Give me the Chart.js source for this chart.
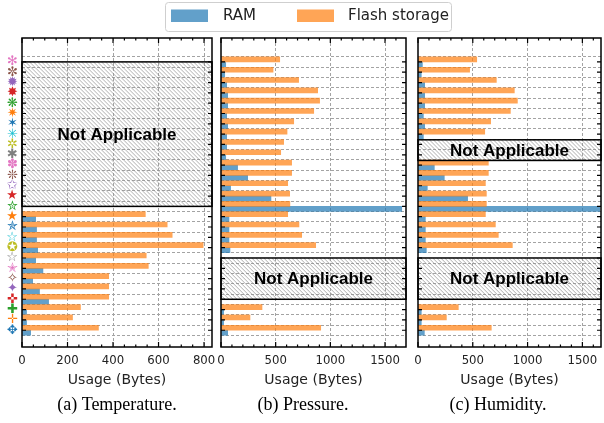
<!DOCTYPE html>
<html>
<head>
<meta charset="utf-8">
<script src="https://cdn.jsdelivr.net/npm/chart.js@4.4.1/dist/chart.umd.min.js"></script>
<style>
  body { margin: 0; background: #fff; }
  #wrap { position: relative; width: 604px; height: 423px; overflow: hidden; }
  canvas { position: absolute; }
</style>
</head>
<body>
<div id="wrap">
  <canvas id="legend" width="604" height="36" style="left:0;top:0"></canvas>
  <canvas id="temp" width="216" height="390" style="left:0;top:33px"></canvas>
  <canvas id="press" width="212" height="390" style="left:200px;top:33px"></canvas>
  <canvas id="humid" width="209" height="390" style="left:395px;top:33px"></canvas>
</div>
<script>
// y tick labels of the first panel (one marker per board, top to bottom)
const rowMarkers = ['✻', '✼', '✹', '✸', '❋', '✷', '✶', '✳', '✲', '✱', '✽', '❊', '✩', '★', '✮', '★',
                    '✯', '☆', '✪', '☆', '✭', '✧', '✦', '✜', '✚', '✛', '✥'];
const markerColors = ['#e377c2', '#8c564b', '#9467bd', '#d62728', '#2ca02c', '#ff7f0e', '#1f77b4', '#17becf', '#bcbd22',
                      '#7f7f7f', '#e377c2', '#8c564b', '#9467bd', '#d62728', '#2ca02c', '#ff7f0e', '#1f77b4', '#17becf',
                      '#bcbd22', '#7f7f7f', '#e377c2', '#8c564b', '#9467bd', '#d62728', '#2ca02c', '#ff7f0e', '#1f77b4'];
const rowIndex = rowMarkers.map((m, i) => i);

const seriesNames = ['RAM', 'Flash storage'];
const captions = ['(a) Temperature.', '(b) Pressure.', '(c) Humidity.'];
const axisTitle = 'Usage (Bytes)';
const naLabel = 'Not Applicable';

// bytes, null = not applicable
const tempRam = [null, null, null, null, null, null, null, null, null, null, null, null, null, null, null,
                 60, 64, 64, 69, 60, 92, 47, 77, 117, 20, 20, 38];
const tempFlash = [null, null, null, null, null, null, null, null, null, null, null, null, null, null, null,
                   542, 638, 660, 796, 546, 555, 381, 381, 381, 257, 222, 336];
const pressRam = [43, 34, 52, 61, 61, 52, 61, 52, 52, 43, 152, 244, 88, 457, 1653, 73, 73, 73, 82,
                  null, null, null, null, null, 24, 24, 61];
const pressFlash = [537, 476, 710, 884, 902, 848, 665, 604, 573, 546, 646, 646, 610, 628, 630, 610, 713, 738, 866,
                    null, null, null, null, null, 375, 265, 912];
const humidRam = [40, 30, 61, 61, 61, 49, 61, 49, null, null, 149, 240, 85, 453, 1658, 67, 67, 67, 76,
                  null, null, null, null, null, 30, 30, 58];
const humidFlash = [536, 471, 715, 879, 907, 843, 663, 609, null, null, 642, 642, 615, 624, 624, 615, 706, 733, 861,
                    null, null, null, null, null, 368, 259, 669];

// row spans covered by the "Not Applicable" boxes
const tempNA = [[0, 14]];
const pressNA = [[19, 23]];
const humidNA = [[7.55, 9.55], [19, 23]];

const ramColor = 'rgba(31,119,180,0.7)';
const flashColor = 'rgba(255,127,14,0.7)';
const gridColor = '#a3a3a3';
const textColor = '#222';

Chart.defaults.font.family = '"DejaVu Sans", sans-serif';
Chart.defaults.color = textColor;

const tickFont = { family: '"Liberation Sans Narrow", "DejaVu Sans Condensed", Roboto, sans-serif', size: 13 };

// frame, inward ticks and hatched boxes
const panelDeco = {
  id: 'panelDeco',
  afterDatasetsDraw(chart, args, opts) {
    const { ctx, chartArea: a, scales: { x, y } } = chart;
    ctx.save();
    (opts.na || []).forEach(([r0, r1]) => {
      const top = y.getPixelForValue(r0), bot = y.getPixelForValue(r1);
      const h = bot - top;
      ctx.save();
      ctx.beginPath();
      ctx.rect(a.left, top, a.right - a.left, h);
      ctx.clip();
      ctx.strokeStyle = '#8c8c8c';
      ctx.lineWidth = 0.7;
      for (let xx = a.left - h; xx < a.right; xx += 4) {
        ctx.beginPath();
        ctx.moveTo(xx, top);
        ctx.lineTo(xx + h, bot);
        ctx.stroke();
      }
      ctx.restore();
      ctx.strokeStyle = '#000';
      ctx.lineWidth = 1.5;
      ctx.strokeRect(a.left, top, a.right - a.left, h);
      ctx.fillStyle = '#000';
      ctx.font = 'bold 17px "Liberation Sans", Arial, sans-serif';
      ctx.textAlign = 'center';
      ctx.textBaseline = 'middle';
      ctx.fillText(naLabel, (a.left + a.right) / 2, (top + bot) / 2 + 1);
    });

    ctx.strokeStyle = '#000';
    ctx.lineWidth = 1.2;
    x.ticks.forEach(t => {
      const px = x.getPixelForValue(t.value);
      const len = t.value % opts.major === 0 ? 5 : 2.5;
      ctx.beginPath();
      ctx.moveTo(px, a.bottom); ctx.lineTo(px, a.bottom - len);
      ctx.moveTo(px, a.top); ctx.lineTo(px, a.top + len);
      ctx.stroke();
    });
    y.ticks.forEach(t => {
      const py = y.getPixelForValue(t.value);
      ctx.beginPath();
      ctx.moveTo(a.left, py); ctx.lineTo(a.left + 4, py);
      ctx.moveTo(a.right, py); ctx.lineTo(a.right - 4, py);
      ctx.stroke();
    });

    ctx.lineWidth = 1.5;
    ctx.strokeRect(a.left, a.top, a.right - a.left, a.bottom - a.top);
    ctx.restore();
  }
};

function makePanel(id, caption, ram, flash, na, xMax, major, minor, yWidth, padRight, withMarkers, fullCaption) {
  new Chart(document.getElementById(id), {
    type: 'bar',
    data: {
      labels: rowIndex,
      datasets: [
        { label: seriesNames[1], data: flash, backgroundColor: flashColor, barThickness: 5 },
        { label: seriesNames[0], data: ram, backgroundColor: ramColor, barThickness: 5 }
      ]
    },
    options: {
      indexAxis: 'y',
      responsive: false,
      animation: false,
      events: [],
      layout: { padding: { top: 5, right: padRight, bottom: 7.4, left: 0 } },
      plugins: {
        legend: { display: false },
        tooltip: { enabled: false },
        title: {
          display: true,
          position: 'bottom',
          text: caption,
          fullSize: fullCaption,
          padding: 0,
          color: '#000',
          font: { family: '"Liberation Serif", "Times New Roman", serif', size: 18, weight: 'normal', lineHeight: 1.2 }
        },
        panelDeco: { na: na, major: major }
      },
      scales: {
        x: {
          type: 'linear',
          min: 0,
          max: xMax,
          afterBuildTicks: s => {
            const t = [];
            for (let v = 0; v <= xMax; v += minor) t.push({ value: v });
            s.ticks = t;
          },
          afterFit: s => { s.height = 47; s.paddingLeft = 0; s.paddingRight = 0; },
          ticks: {
            autoSkip: false,
            maxRotation: 0,
            padding: 6,
            font: tickFont,
            callback: v => (v % major === 0 ? String(v) : '')
          },
          grid: {
            drawTicks: false,
            lineWidth: 1,
            color: c => (c.tick && c.tick.value % major === 0 && c.tick.value !== 0 ? gridColor : 'transparent')
          },
          border: { display: false, dash: [3, 2] },
          title: {
            display: true,
            text: axisTitle,
            font: { size: 14, lineHeight: 1.2 },
            padding: { top: 0, bottom: 4.8 }
          }
        },
        y: {
          type: 'linear',
          reverse: true,
          min: -1.76,
          max: 27.07,
          afterBuildTicks: s => { s.ticks = rowIndex.map(v => ({ value: v })); },
          afterFit: s => { s.width = yWidth; s.paddingTop = 0; s.paddingBottom = 0; },
          ticks: {
            display: withMarkers,
            autoSkip: false,
            padding: 4,
            font: { size: 13, lineHeight: 1 },
            color: c => markerColors[c.tick.value],
            callback: v => rowMarkers[v]
          },
          grid: { drawTicks: false, lineWidth: 1, color: gridColor },
          border: { display: false, dash: [3, 2] }
        }
      }
    },
    plugins: [panelDeco]
  });
}

makePanel('temp', captions[0], tempRam, tempFlash, tempNA, 835, 200, 50, 22, 4, true, false);
makePanel('press', captions[1], pressRam, pressFlash, pressNA, 1692, 500, 100, 21, 6, false, true);
makePanel('humid', captions[2], humidRam, humidFlash, humidNA, 1670, 500, 100, 23, 3, false, true);

// shared legend in its own small chart
const legendBox = {
  id: 'legendBox',
  afterDraw(chart) {
    const ctx = chart.ctx;
    const items = [{ sx: 171, tx: 223 }, { sx: 297, tx: 348 }];
    ctx.save();
    ctx.strokeStyle = '#cfcfcf';
    ctx.lineWidth = 1;
    ctx.beginPath();
    ctx.roundRect(165.5, 2.5, 286, 29, 3);
    ctx.stroke();
    ctx.font = '15px "DejaVu Sans", sans-serif';
    ctx.textBaseline = 'middle';
    ctx.fillStyle = textColor;
    chart.data.datasets.forEach((ds, i) => {
      ctx.fillStyle = ds.backgroundColor;
      ctx.fillRect(items[i].sx, 9.5, 37, 12.5);
      ctx.fillStyle = textColor;
      ctx.fillText(ds.label, items[i].tx, 16.5);
    });
    ctx.restore();
  }
};

new Chart(document.getElementById('legend'), {
  type: 'bar',
  data: {
    labels: [],
    datasets: [
      { label: seriesNames[0], data: [], backgroundColor: ramColor },
      { label: seriesNames[1], data: [], backgroundColor: flashColor }
    ]
  },
  options: {
    responsive: false,
    animation: false,
    events: [],
    plugins: { legend: { display: false }, tooltip: { enabled: false } },
    scales: { x: { display: false }, y: { display: false } }
  },
  plugins: [legendBox]
});
</script>
</body>
</html>
